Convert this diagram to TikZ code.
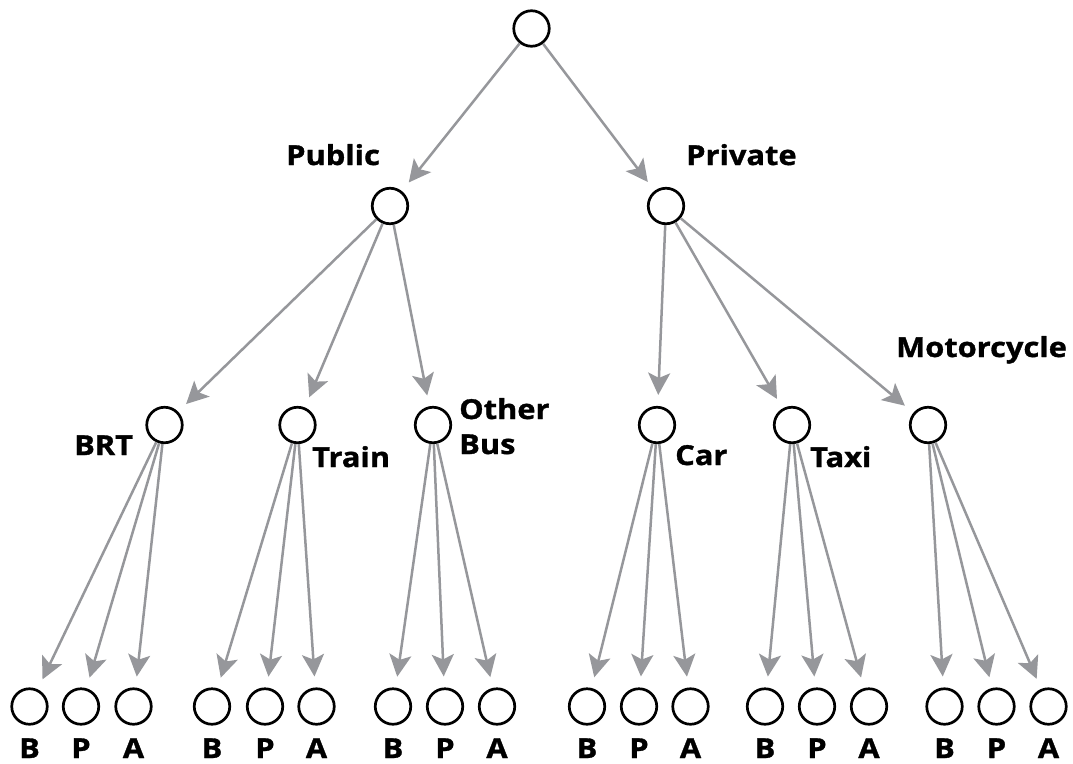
\documentclass[tikz,border=0pt]{standalone}
\usepackage{fontspec}
\setmainfont[FakeStretch=1.12,BoldFeatures={FakeBold=1.2}]{Open Sans}
\usetikzlibrary{arrows.meta}
\definecolor{arrgray}{RGB}{150,151,155}
\begin{document}
\begin{tikzpicture}[x=1pt,y=-1pt,
  nd/.style={circle,draw=black,line width=2.7pt,minimum size=35.5pt,inner sep=0pt,fill=white},
  arr/.style={draw=arrgray,line width=2.5pt,-{Stealth[length=22pt,width=22pt,inset=5pt]},shorten >=11pt},
  lbl/.style={font=\fontsize{27.5}{30}\selectfont\bfseries,inner sep=0pt,anchor=base west},
  lf/.style={font=\fontsize{27.5}{30}\selectfont\bfseries,inner sep=0pt,text depth=0pt,anchor=base}]
\useasboundingbox (0,0) rectangle (1073,763);
% nodes
\node[nd] (root) at (531.5,28.5) {};
\node[nd] (pub) at (390,206) {};
\node[nd] (pri) at (666,206) {};
\node[nd] (brt) at (164.5,425) {};
\node[nd] (tra) at (297.5,425) {};
\node[nd] (oth) at (433,425) {};
\node[nd] (car) at (657,425) {};
\node[nd] (tax) at (792,425) {};
\node[nd] (mot) at (928,425) {};
\foreach \g/\a/\b/\c in {brt/29.5/81/133.5, tra/212/265/316.5, oth/393/445/497, car/587/639/690.5, tax/765/817/869, mot/944.5/996.5/1048.5}{
  \node[nd] (\g B) at (\a,706.5) {};
  \node[nd] (\g P) at (\b,706.5) {};
  \node[nd] (\g A) at (\c,706.5) {};
  \node[lf] (\g Bl) at (\a,758) {B};
  \node[lf] (\g Pl) at (\b,758) {P};
  \node[lf] (\g Al) at (\c,758) {A};
  \draw[arr] (\g) -- (\g B);
  \draw[arr] (\g) -- (\g P);
  \draw[arr] (\g) -- (\g A);
}
% connectors
\draw[arr] (root) -- (pub);
\draw[arr] (root) -- (pri);
\draw[arr] (pub) -- (brt);
\draw[arr] (pub) -- (tra);
\draw[arr] (pub) -- (oth);
\draw[arr] (pri) -- (car);
\draw[arr] (pri) -- (tax);
\draw[arr] (pri) -- (mot);
% labels
\node[lbl] (lpub) at (286,165) {Public};
\node[lbl] (lpri) at (686,165) {Private};
\node[lbl] (lmot) at (896,357) {Motorcycle};
\node[lbl] (lbrt) at (74,455) {BRT};
\node[lbl] (ltra) at (312,467) {Train};
\node[lbl] (loth) at (459,419) {Other};
\node[lbl] (lbus) at (459,454) {Bus};
\node[lbl] (lcar) at (675,465) {Car};
\node[lbl] (ltax) at (810,467) {Taxi};
\end{tikzpicture}
\end{document}
